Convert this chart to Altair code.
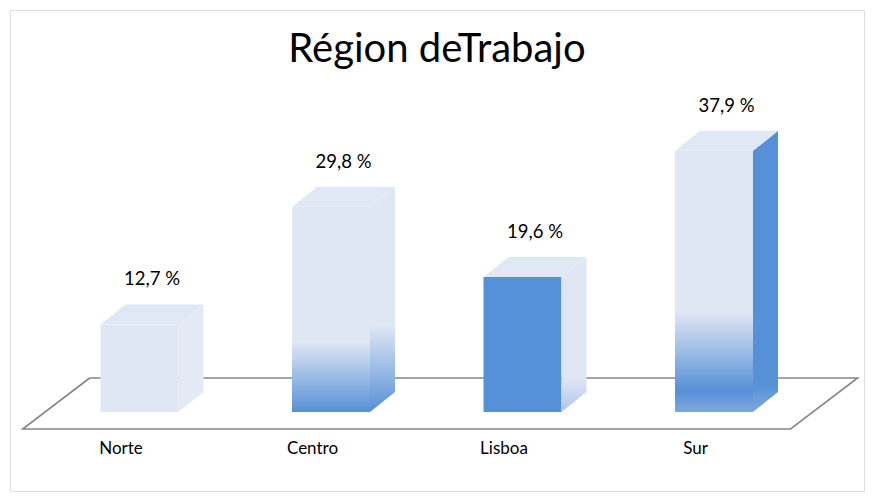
import json
import altair as alt
import pandas as pd

# ---- data -------------------------------------------------------------
categories = ["Norte", "Centro", "Lisboa", "Sur"]
values = [12.7, 29.8, 19.6, 37.9]
title_text = "Région deTrabajo"

# ---- geometry / style parameters ---------------------------------------
PX_X = 191.5            # pixels between category centres
PX_Y = 6.89             # pixels per percent point
HALF_W = 39 / PX_X      # half front-face width, in category units
DEP_X = 25 / PX_X       # 3-D depth, horizontal
DEP_Y = 20 / PX_Y       # 3-D depth, vertical
FLOOR_BACK = 34 / PX_Y
FLOOR_FRONT = -17 / PX_Y
FLOOR_DX = 67 / PX_X
LABEL_SHIFT = 19 / PX_X

L = "#DFE6F4"
B = "#5690D7"
LINE = "#868686"
FONT = "Lato"

front_styles = {
    "Norte": [(0, L), (1, L)],
    "Centro": [(0, L), (0.66, L), (1, B)],
    "Lisboa": [(0, B), (1, B)],
    "Sur": [(0, L), (0.62, L), (0.92, B), (1, "#7FA7E0")],
}
side_styles = {
    "Norte": [(0, "#E3E9F5"), (1, "#E3E9F5")],
    "Centro": [(0, L), (0.62, L), (1, B)],
    "Lisboa": [(0, L), (0.78, L), (1, "#AFC5EC")],
    "Sur": [(0, B), (0.9, B), (1, "#7FA7E0")],
}

W, H = 854, 481
X0 = 129.5
x_scale = alt.Scale(domain=[-0.5, 3.5], range=[X0 - 0.5 * PX_X, X0 + 3.5 * PX_X], nice=False, zero=False)
y_scale = alt.Scale(domain=[0, 40], range=[402, 402 - 40 * PX_Y], nice=False, zero=False)

x_axis = alt.Axis(
    values=[i - LABEL_SHIFT for i in range(len(categories))],
    labelExpr=f"{json.dumps(categories)}[round(datum.value + {LABEL_SHIFT})]",
    domain=False, ticks=False, grid=False, title=None,
    labelFont=FONT, labelFontSize=17, labelColor="black",
    labelBaseline="middle", labelPadding=0, offset=-43,
    labelFlush=False, labelOverlap=False,
)


def grad(stops):
    return alt.Gradient(
        gradient="linear", x1=0, y1=0, x2=0, y2=1,
        stops=[alt.GradientStop(offset=o, color=c) for o, c in stops],
    )


base = pd.DataFrame({"cat": categories, "idx": list(range(len(categories))), "v": values})
base["xl"] = base["idx"] - HALF_W
base["xr"] = base["idx"] + HALF_W
base["zero"] = 0.0

faces = base.merge(pd.DataFrame({"k": [0, 1]}), how="cross")
faces["sx"] = faces["xr"] + faces["k"] * DEP_X
faces["slo"] = faces["k"] * DEP_Y
faces["shi"] = faces["v"] + faces["k"] * DEP_Y
faces["ty"] = faces["v"] + faces["k"] * DEP_Y
faces["tx1"] = faces["xl"] + faces["k"] * DEP_X
faces["tx2"] = faces["xr"] + faces["k"] * DEP_X

# floor outline derived from the category range
fl, fr = -0.61, 3.40
floor = pd.DataFrame({
    "o": [0, 1, 2, 3, 4],
    "fx": [fl + FLOOR_DX, fr + FLOOR_DX, fr, fl, fl + FLOOR_DX],
    "fy": [FLOOR_BACK, FLOOR_BACK, FLOOR_FRONT, FLOOR_FRONT, FLOOR_BACK],
})

layers = []
layers.append(
    alt.Chart(floor).mark_line(color=LINE, strokeWidth=1.6).encode(
        x=alt.X("fx:Q", scale=x_scale, axis=x_axis),
        y=alt.Y("fy:Q", scale=y_scale, axis=None),
        order="o:Q",
    )
)

for cat in categories:
    b = base[base["cat"] == cat]
    f = faces[faces["cat"] == cat]
    layers.append(
        alt.Chart(b).mark_rect(fill=grad(front_styles[cat]), strokeWidth=0).encode(
            x=alt.X("xl:Q", scale=x_scale, axis=x_axis),
            x2="xr:Q",
            y=alt.Y("v:Q", scale=y_scale, axis=None),
            y2="zero:Q",
        )
    )
    layers.append(
        alt.Chart(f).mark_area(fill=grad(side_styles[cat])).encode(
            x=alt.X("sx:Q", scale=x_scale, axis=x_axis),
            y=alt.Y("shi:Q", scale=y_scale, axis=None),
            y2="slo:Q",
        )
    )
    layers.append(
        alt.Chart(f).mark_area(orient="horizontal", fill="#E1E8F5").encode(
            y=alt.Y("ty:Q", scale=y_scale, axis=None),
            x=alt.X("tx1:Q", scale=x_scale, axis=x_axis),
            x2="tx2:Q",
        )
    )

labels = (
    alt.Chart(base)
    .transform_calculate(
        lx=f"datum.idx + {DEP_X / 2}",
        ly=f"datum.v + {DEP_Y}",
        lab="replace(format(datum.v, '.1f'), '.', ',') + ' %'",
    )
    .mark_text(font=FONT, fontSize=18.5, color="black", dy=-25, baseline="middle")
    .encode(
        x=alt.X("lx:Q", scale=x_scale, axis=x_axis),
        y=alt.Y("ly:Q", scale=y_scale, axis=None),
        text="lab:N",
    )
)
layers.append(labels)

chart = (
    alt.layer(*layers)
    .properties(
        width=W, height=H,
        autosize=alt.AutoSizeParams(type="none"),
        padding=2,
        title=alt.TitleParams(
            title_text, font=FONT, fontSize=40, fontWeight="normal",
            color="black", anchor="middle", offset=-92, baseline="alphabetic",
        ),
    )
    .configure_view(stroke="#7F7F7F", strokeWidth=2)
    .configure(background="white")
)

chart.save("out.html", embed_options={"renderer": "svg", "actions": False})
